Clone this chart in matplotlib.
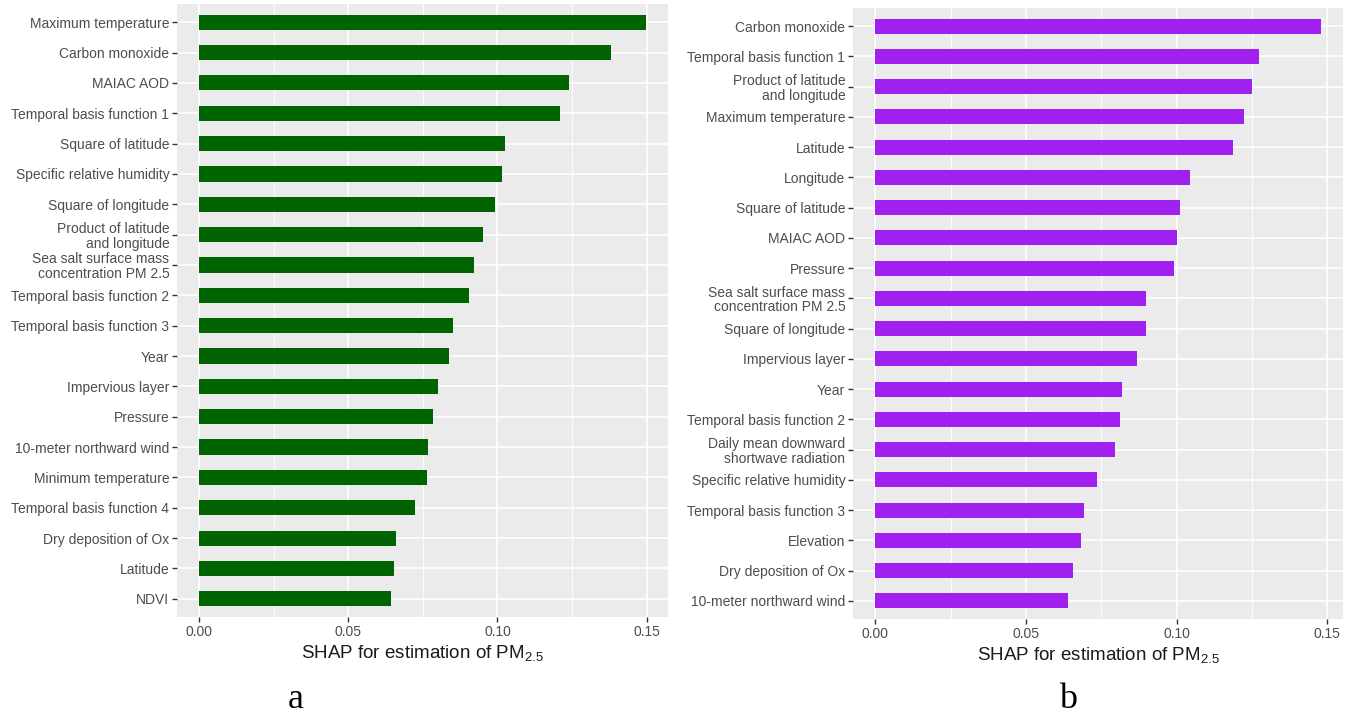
import matplotlib
matplotlib.use("Agg")
import matplotlib.pyplot as plt
import numpy as np

plt.rcParams['font.family'] = ['Liberation Sans', 'DejaVu Sans']
plt.rcParams['mathtext.default'] = 'regular'

# ---- data (top to bottom) ----
labels_a = ["Maximum temperature", "Carbon monoxide", "MAIAC AOD", "Temporal basis function 1",
            "Square of latitude", "Specific relative humidity", "Square of longitude",
            "Product of latitude\nand longitude", "Sea salt surface mass\nconcentration PM 2.5",
            "Temporal basis function 2", "Temporal basis function 3", "Year", "Impervious layer",
            "Pressure", "10-meter northward wind", "Minimum temperature", "Temporal basis function 4",
            "Dry deposition of Ox", "Latitude", "NDVI"]
values_a = [0.1497, 0.1382, 0.1240, 0.1208, 0.1025, 0.1015, 0.0992, 0.0951, 0.0921, 0.0905,
            0.0852, 0.0839, 0.0800, 0.0783, 0.0767, 0.0762, 0.0722, 0.0661, 0.0652, 0.0643]

labels_b = ["Carbon monoxide", "Temporal basis function 1", "Product of latitude\nand longitude",
            "Maximum temperature", "Latitude", "Longitude", "Square of latitude", "MAIAC AOD",
            "Pressure", "Sea salt surface mass\nconcentration PM 2.5", "Square of longitude",
            "Impervious layer", "Year", "Temporal basis function 2",
            "Daily mean downward\nshortwave radiation", "Specific relative humidity",
            "Temporal basis function 3", "Elevation", "Dry deposition of Ox", "10-meter northward wind"]
values_b = [0.1478, 0.1272, 0.1249, 0.1225, 0.1186, 0.1043, 0.1012, 0.1000, 0.0991, 0.0898,
            0.0898, 0.0869, 0.0818, 0.0811, 0.0797, 0.0736, 0.0692, 0.0684, 0.0657, 0.0640]

xticks = [0.0, 0.05, 0.10, 0.15]
xticklabels = ["0.00", "0.05", "0.10", "0.15"]
minor_ticks = [0.025, 0.075, 0.125]

W, H = 1355, 720
fig = plt.figure(figsize=(W / 100, H / 100), dpi=100)
fig.patch.set_facecolor("white")


def panel(rect, labels, values, color, letter, letter_x):
    ax = fig.add_axes(rect)
    n = len(labels)
    ypos = np.arange(n)[::-1]
    ax.set_facecolor("#EBEBEB")
    ax.barh(ypos, values, height=0.5, color=color, zorder=3)
    vmax = max(values)
    ax.set_xlim(-0.05 * vmax, vmax * 1.05)
    ax.set_ylim(-0.6, n - 1 + 0.6)
    ax.set_yticks(ypos)
    ax.set_yticklabels(labels, fontsize=10, color="#4D4D4D", linespacing=1.05)
    ax.set_xticks(xticks)
    ax.set_xticklabels(xticklabels, fontsize=10, color="#4D4D4D")
    ax.set_xticks(minor_ticks, minor=True)
    ax.tick_params(axis="both", which="major", length=3.5, width=1.0, color="#333333", pad=2)
    ax.tick_params(axis="x", which="minor", length=0)
    ax.grid(True, which="major", color="white", linewidth=1.2, zorder=0)
    ax.grid(True, which="minor", axis="x", color="white", linewidth=0.6, zorder=0)
    ax.set_axisbelow(True)
    for s in ax.spines.values():
        s.set_visible(False)
    ax.set_xlabel("SHAP for estimation of PM$_{2.5}$", fontsize=13.5, color="#1A1A1A", labelpad=3)
    fig.text(letter_x / W, 1 - 700 / H, letter, fontsize=26, family="Liberation Serif",
             ha="center", va="center")
    return ax


panel([177 / W, 1 - 617 / H, (668 - 177) / W, (617 - 4) / H], labels_a, values_a,
      "#006400", "a", 296)
panel([853 / W, 1 - 619 / H, (1343 - 853) / W, (619 - 8) / H], labels_b, values_b,
      "#A020F0", "b", 1068)

fig.savefig("out.png", dpi=100)
